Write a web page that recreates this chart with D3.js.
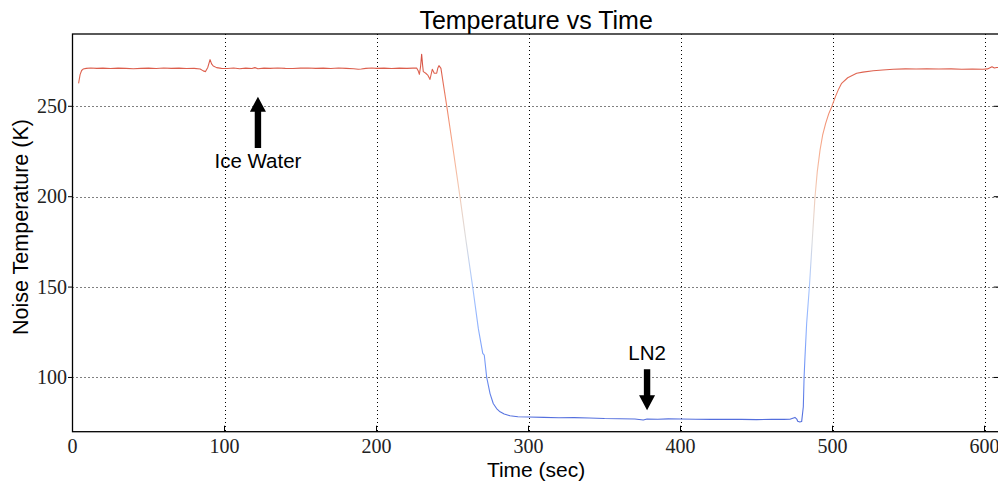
<!DOCTYPE html>
<html><head><meta charset="utf-8">
<script src="https://cdn.jsdelivr.net/npm/d3@7"></script>
<style>
html,body{margin:0;padding:0;background:#fff;}
svg{display:block;}
</style>
</head><body>
<svg id="chart" width="998" height="484"></svg>
<script>
// ---- data ----
const times = [4,5,6,7,9,12,16,20,25,30,35,40,45,50,55,60,65,70,75,80,84,86,87.5,89,90.5,91.5,92.6,94.8,98,102,106,110,114,118,120,122,126,130,135,140,145,150,155,160,165,170,175,180,185,188,190,193,197,200,205,210,215,220,224,226.4,227.5,228.2,229,229.7,230.3,230.8,232.4,233.7,235.2,236.7,238,239.6,240.3,241.1,242.4,243.9,246.2,250,254.9,259,263.3,267,269.9,270.9,272.5,274.7,276.8,279,281.3,284,287.8,293,300,310,320,330,340,350,360,370,375.5,378,385,392,400,410,420,430,440,450,460,468,472,475.3,476.5,477.1,478.5,479.7,480.8,481.3,481.9,483,484.8,486.7,488.5,490,491.8,493.5,495.5,497.5,499.5,502,504,506,510,515.9,520,526.8,533,540,548,555,562,570,578,585,592,599,602,604.9,606.5,608,610];
const temps = [262.7,267.5,269.8,270.6,271.0,271.2,271.0,271.1,270.9,271.1,271.0,270.8,271.0,271.1,270.9,271.2,271.0,271.1,270.9,271.0,270.6,269.6,269.2,271.5,275.8,273.5,272.3,271.4,271.0,270.9,271.2,270.8,271.1,270.9,271.4,270.8,271.1,271.0,271.2,271.0,270.9,271.1,271.2,271.0,271.1,270.9,271.2,271.0,270.8,270.5,270.6,271.0,271.2,271.0,271.1,270.9,271.1,271.0,271.1,271.2,269.5,267.7,272.0,278.8,273.0,269.2,268.3,267.3,264.9,270.5,268.3,268.3,271.0,272.5,271.0,262.7,250.2,228.6,200.0,175.0,150.0,127.0,113.3,112.4,100.0,91.1,85.6,82.8,81.0,79.8,78.8,78.3,78.1,77.9,77.7,77.8,77.6,77.3,77.2,77.0,76.5,77.0,76.9,77.1,77.0,76.9,76.8,76.9,76.8,76.7,76.8,76.8,76.9,77.9,77.0,75.8,75.4,75.6,83.8,100.0,111.4,130.0,150.2,176.0,200.0,214.0,225.8,234.0,240.6,245.8,249.8,255.5,259.5,262.7,265.8,268.3,268.9,269.7,270.1,270.5,270.7,270.6,270.8,270.6,270.7,270.5,270.6,270.5,270.7,271.9,271.2,271.5,271.4];
const xTicks = [0,100,200,300,400,500,600];
const yTicks = [100,150,200,250];
const xDomain = [0,610];
const yDomain = [70,290];
const titleText = "Temperature vs Time";
const xLabel = "Time (sec)";
const yLabel = "Noise Temperature (K)";
const annoLabels = ["Ice Water","LN2"];
const annoTip = [[122,255.3],[378,81.9]];
const annoTail = [[122,227],[378,104.6]];
const annoText = [[122,215.8],[378,109.5]];
// coolwarm colormap stops
const cmapStops = ["#3b4cc0","#536edd","#6f92f3","#8db0fe","#aac7fd","#dddcdc","#f2cbb7","#f7ac8e","#ee8468","#d65244","#b40426"];
const colorRange = [52, 302];

// ---- layout ----
const svg = d3.select("#chart");
const L = 72.5, R = 999.7, T = 34, B = 431.7;
const x = d3.scaleLinear().domain(xDomain).range([L,R]);
const y = d3.scaleLinear().domain(yDomain).range([B,T]);

const data = times.map((t,i)=>({t, v: temps[i]}));

// grid
const grid = svg.append("g").attr("stroke","#000").attr("stroke-width",1).attr("stroke-dasharray","1,3");
grid.selectAll("line.gx").data(xTicks.filter(d=>d>0)).join("line")
  .attr("x1",d=>Math.round(x(d))+0.5).attr("x2",d=>Math.round(x(d))+0.5)
  .attr("y1",T).attr("y2",B);
grid.selectAll("line.gy").data(yTicks).join("line")
  .attr("y1",d=>Math.round(y(d))+0.5).attr("y2",d=>Math.round(y(d))+0.5)
  .attr("x1",L).attr("x2",R);

// gradient for line colour (coolwarm by value)
const defs = svg.append("defs");
const grad = defs.append("linearGradient").attr("id","cw")
  .attr("gradientUnits","userSpaceOnUse")
  .attr("x1",0).attr("x2",0).attr("y1",y(colorRange[0])).attr("y2",y(colorRange[1]));
grad.selectAll("stop").data(cmapStops).join("stop")
  .attr("offset",(d,i)=>i/(cmapStops.length-1))
  .attr("stop-color",d=>d);

svg.append("path").datum(data)
  .attr("fill","none").attr("stroke","url(#cw)").attr("stroke-width",1.1)
  .attr("stroke-linejoin","round")
  .attr("d", d3.line().x(d=>x(d.t)).y(d=>y(d.v)));

// spines
const sp = svg.append("g").attr("stroke","#000").attr("stroke-width",1.3).attr("fill","none");
sp.append("rect").attr("x",L).attr("y",T).attr("width",R-L).attr("height",B-T);

// ticks
const tk = svg.append("g").attr("stroke","#000").attr("stroke-width",1);
tk.selectAll("line.bx").data(xTicks).join("line")
  .attr("x1",d=>x(d)).attr("x2",d=>x(d)).attr("y1",B).attr("y2",B-6);
tk.selectAll("line.ly").data(yTicks).join("line")
  .attr("x1",L-4.5).attr("x2",L).attr("y1",d=>y(d)).attr("y2",d=>y(d));
tk.selectAll("line.ry").data(yTicks).join("line")
  .attr("x1",R-6).attr("x2",R).attr("y1",d=>y(d)).attr("y2",d=>y(d));

// tick labels
const serif = "'Liberation Serif','Times New Roman',serif";
svg.append("g").selectAll("text").data(xTicks).join("text")
  .attr("x",d=>x(d)).attr("y",452.5).attr("text-anchor","middle")
  .attr("font-family",serif).attr("font-size",20).attr("fill","#222")
  .text(d=>d);
svg.append("g").selectAll("text").data(yTicks).join("text")
  .attr("x",67).attr("y",d=>y(d)+6.8).attr("text-anchor","end")
  .attr("font-family",serif).attr("font-size",20).attr("fill","#222")
  .text(d=>d);

// titles
const sans = "'Liberation Sans',Arial,sans-serif";
svg.append("text").attr("x",(L+R)/2).attr("y",29.3).attr("text-anchor","middle")
  .attr("font-family",sans).attr("font-size",25).text(titleText);
svg.append("text").attr("x",(L+R)/2).attr("y",477).attr("text-anchor","middle")
  .attr("font-family",sans).attr("font-size",21).text(xLabel);
svg.append("text").attr("transform","translate(28.3,227) rotate(-90)").attr("text-anchor","middle")
  .attr("font-family",sans).attr("font-size",21.5).text(yLabel);

// annotations (arrows)
annoLabels.forEach((lab,i)=>{
  const tx = x(annoTip[i][0]), ty = y(annoTip[i][1]);
  const ex = x(annoTail[i][0]), ey = y(annoTail[i][1]);
  const dir = ey > ty ? 1 : -1; // direction from tip to tail
  const headLen = 15, headHalf = 8, shaftHalf = 3.2;
  const hy = ty + dir*headLen;
  const pts = [[tx,ty],[tx+headHalf,hy],[tx+shaftHalf,hy],[tx+shaftHalf,ey],[tx-shaftHalf,ey],[tx-shaftHalf,hy],[tx-headHalf,hy]];
  svg.append("polygon").attr("points",pts.map(p=>p.join(",")).join(" ")).attr("fill","#000");
  svg.append("text").attr("x",x(annoText[i][0])).attr("y",y(annoText[i][1]))
    .attr("text-anchor","middle").attr("font-family",sans).attr("font-size",20.5).text(lab);
});
</script>
</body></html>
